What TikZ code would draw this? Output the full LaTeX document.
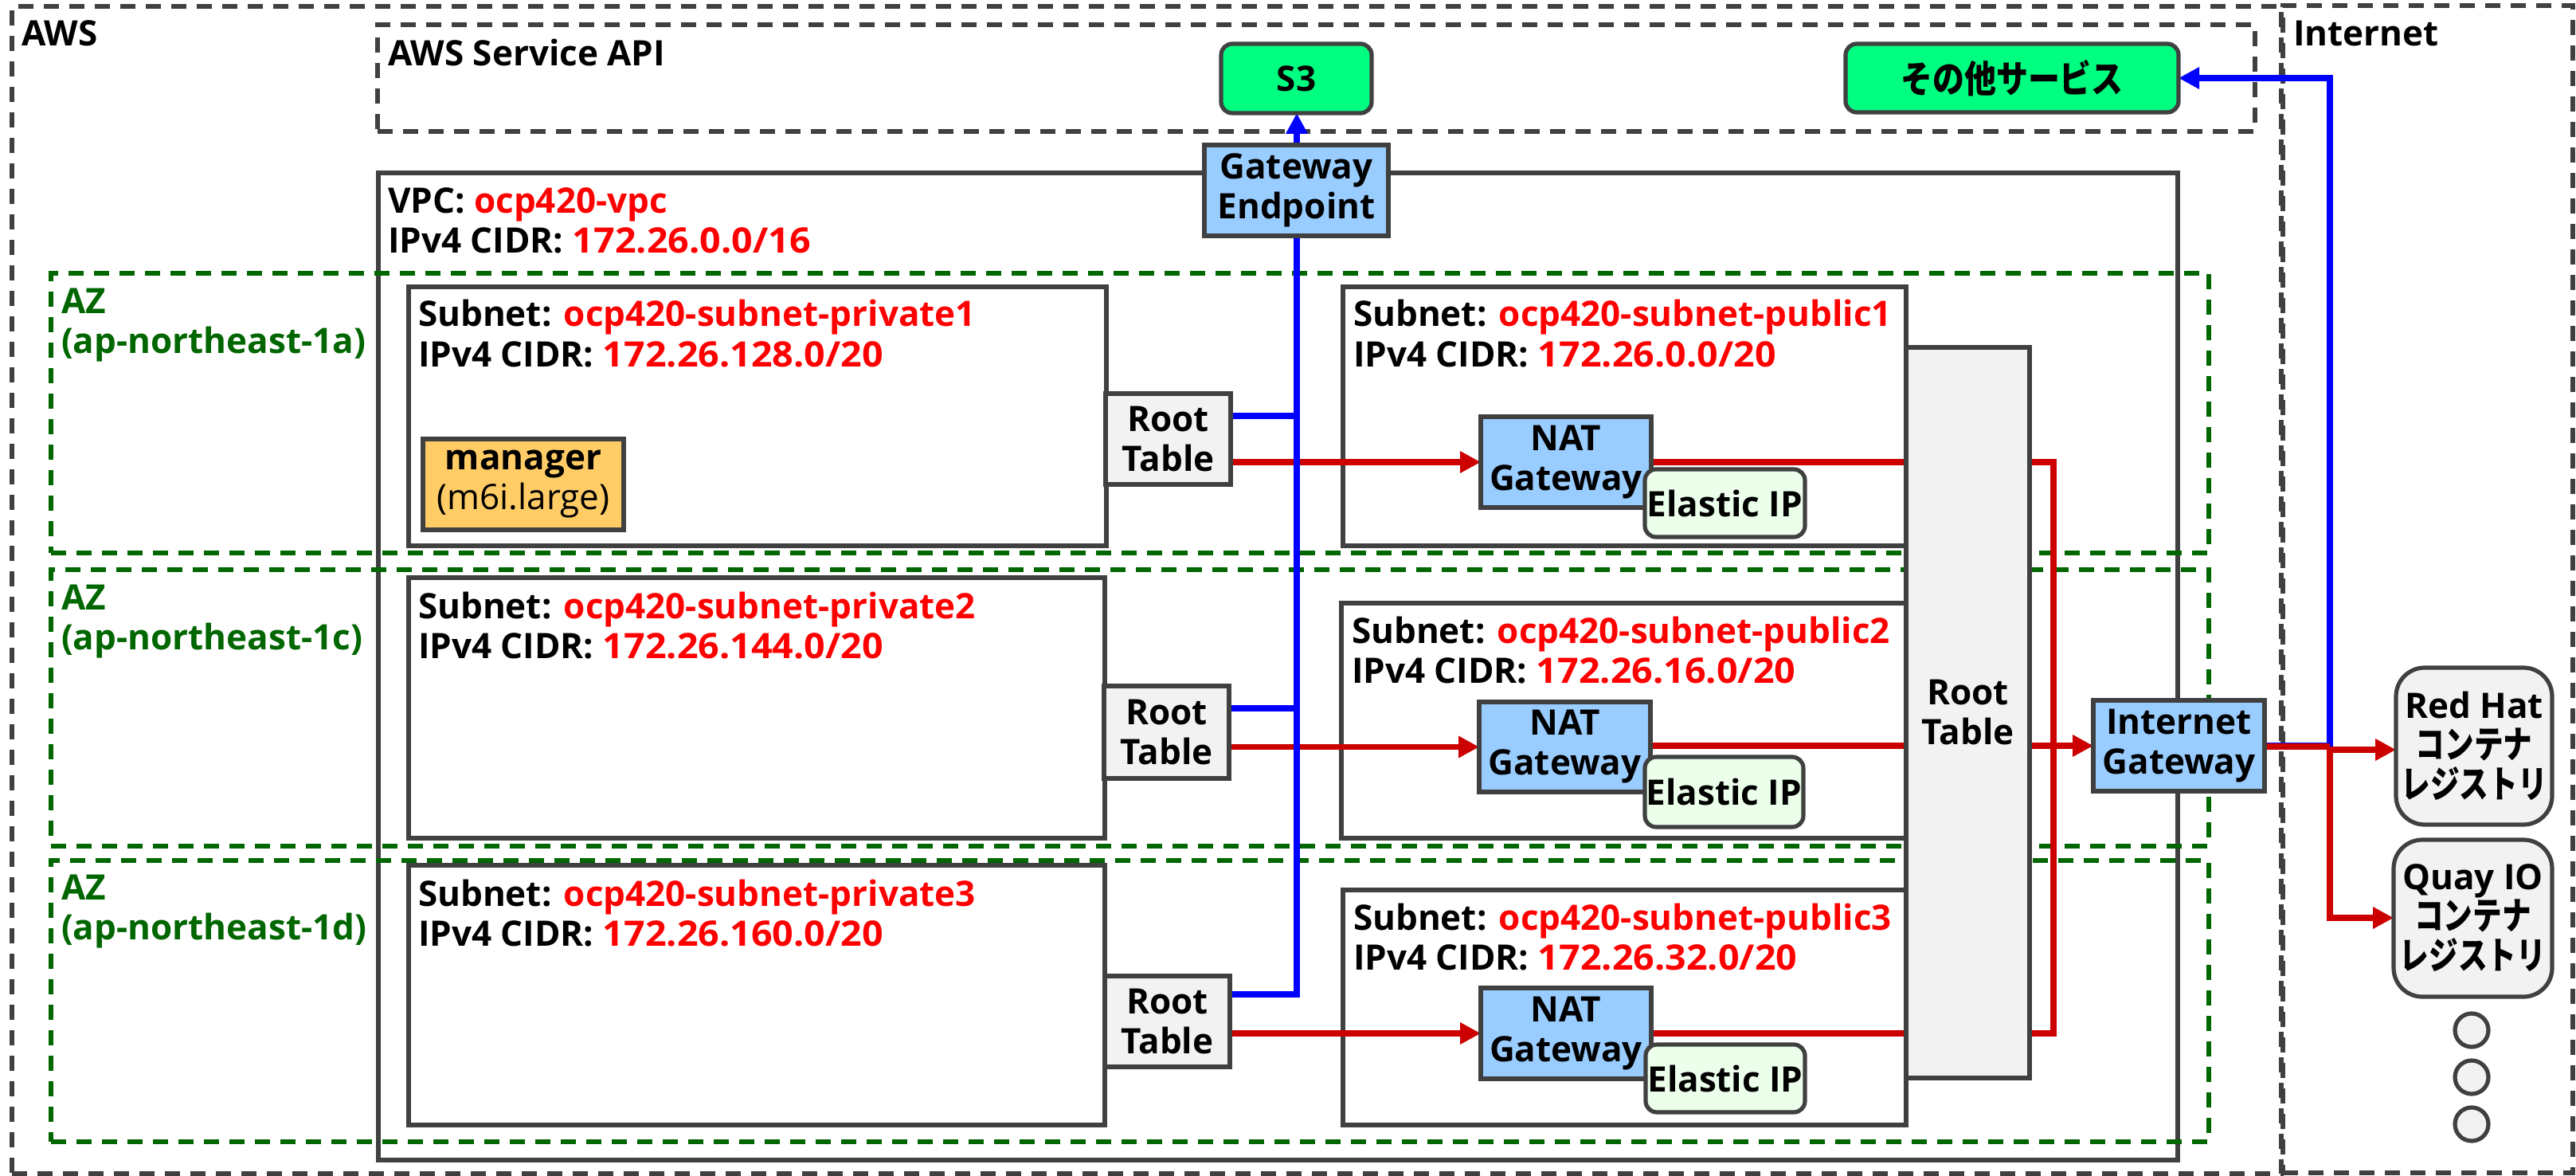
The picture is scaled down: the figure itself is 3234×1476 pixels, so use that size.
\documentclass[tikz,border=0pt]{standalone}
\usepackage{fontspec}
\setmainfont{Open Sans}
\newfontfamily\numf{Open Sans}[FakeStretch=1.06]
\newfontfamily\cjk{Noto Sans CJK JP}[FakeStretch=0.78]
\newfontfamily\cjkw{Noto Sans CJK JP}[FakeStretch=0.85]
\usetikzlibrary{arrows.meta}
\pgfdeclarelayer{bg}\pgfdeclarelayer{conn}\pgfsetlayers{bg,conn,main}
\definecolor{edge}{HTML}{404040}
\definecolor{azgreen}{HTML}{006600}
\definecolor{redline}{HTML}{CC0000}
\definecolor{hlred}{HTML}{FF0000}
\definecolor{gwblue}{HTML}{99CCFF}
\definecolor{tblgray}{HTML}{F2F2F2}
\definecolor{mgrorange}{HTML}{FFCC66}
\definecolor{svcgreen}{HTML}{00FF80}
\definecolor{eipgreen}{HTML}{EBFFEB}
\newcommand{\hl}[1]{\textcolor{hlred}{#1}}
\newcommand{\hn}[1]{\textcolor{hlred}{\numf #1}}
\newcommand{\jp}[1]{{\fontsize{23.5}{25}\selectfont\cjk #1}}
\newcommand{\boxn}[6]{% style, name, left, top, right, bottom; text follows
  \node[#1,minimum width={(#5-#3)*0.5pt},minimum height={(#6-#4)*0.5pt}] (#2) at ({(#3+#5)/2},{(#4+#6)/2})}
\tikzset{
  x=0.5pt,y=-0.5pt,
  basebox/.style={draw=edge,line width=2.6pt,inner sep=0pt,outer sep=0pt,align=center,rectangle,text=black,
    font=\fontsize{22}{25}\selectfont\bfseries},
  dashbox/.style={basebox,dash pattern=on 9.5pt off 6.5pt},
  azbox/.style={dashbox,draw=azgreen},
  solidbox/.style={basebox},
  gwbox/.style={basebox,fill=gwblue},
  tblbox/.style={basebox,fill=tblgray},
  mgrbox/.style={basebox,fill=mgrorange},
  svcbox/.style={basebox,fill=svcgreen,rounded corners=7pt},
  eipbox/.style={basebox,fill=eipgreen,rounded corners=7pt},
  regbox/.style={basebox,fill=tblgray,rounded corners=18pt},
  dotn/.style={draw=edge,line width=2.6pt,fill=tblgray,circle,inner sep=0pt,outer sep=0pt,minimum size=21pt},
  lbl/.style={anchor=base west,inner sep=0pt,outer sep=0pt,align=left,text=black,
    font=\fontsize{22}{25}\selectfont\bfseries},
  azlbl/.style={lbl,text=azgreen},
  redarrow/.style={draw=redline,line width=3.6pt,-{Triangle[length=13pt,width=13pt]}},
  redpath/.style={draw=redline,line width=3.6pt},
  bluearrow/.style={draw=blue,line width=3.6pt,-{Triangle[length=13pt,width=13pt]}},
  bluepath/.style={draw=blue,line width=3.6pt},
}
\begin{document}
\begin{tikzpicture}
\useasboundingbox (0,0) rectangle (3234,1476);
\begin{pgfonlayer}{bg}
\boxn{dashbox}{aws}{15}{8}{2864}{1473}{};
\boxn{dashbox}{inet}{2866}{7}{3230}{1472}{};
\boxn{dashbox}{api}{474}{31}{2831}{165}{};
\boxn{solidbox}{vpc}{475}{217}{2734}{1456}{};
\boxn{azbox}{az1}{64}{343}{2773}{694}{};
\boxn{azbox}{az2}{64}{715}{2773}{1062}{};
\boxn{azbox}{az3}{64}{1080}{2773}{1433}{};
\boxn{solidbox}{priv1}{513}{360}{1389}{685}{};
\boxn{solidbox}{priv2}{513}{725}{1387}{1052}{};
\boxn{solidbox}{priv3}{513}{1086}{1387}{1412}{};
\boxn{solidbox}{pub1}{1686}{360}{2393}{685}{};
\boxn{solidbox}{pub2}{1684}{757}{2393}{1052}{};
\boxn{solidbox}{pub3}{1686}{1117}{2393}{1412}{};
\end{pgfonlayer}

\node[lbl] (awst) at (27,57.5) {AWS};
\node[lbl] (apit) at (487,82.6) {AWS Service API};
\node[lbl] (inett) at (2879,58) {Internet};
\node[lbl] (vpct) at (487,318) {VPC: \hl{ocp420-vpc}\\IPv4 CIDR: \hn{172.26.0.0/16}};
\node[azlbl] (az1t) at (77,444) {AZ\\(ap-northeast-1a)};
\node[azlbl] (az2t) at (77,815) {AZ\\(ap-northeast-1c)};
\node[azlbl] (az3t) at (77,1179) {AZ\\(ap-northeast-1d)};
\node[lbl] (priv1t) at (525,460) {Subnet: \hl{ocp420-subnet-private1}\\IPv4 CIDR: \hn{172.26.128.0/20}};
\node[lbl] (priv2t) at (525,826) {Subnet: \hl{ocp420-subnet-private2}\\IPv4 CIDR: \hn{172.26.144.0/20}};
\node[lbl] (priv3t) at (525,1187) {Subnet: \hl{ocp420-subnet-private3}\\IPv4 CIDR: \hn{172.26.160.0/20}};
\node[lbl] (pub1t) at (1699,460) {Subnet: \hl{ocp420-subnet-public1}\\IPv4 CIDR: \hn{172.26.0.0/20}};
\node[lbl] (pub2t) at (1697,857) {Subnet: \hl{ocp420-subnet-public2}\\IPv4 CIDR: \hn{172.26.16.0/20}};
\node[lbl] (pub3t) at (1699,1217) {Subnet: \hl{ocp420-subnet-public3}\\IPv4 CIDR: \hn{172.26.32.0/20}};

\boxn{svcbox}{s3}{1533}{55}{1722}{142}{S3};
\boxn{svcbox}{other}{2317}{55}{2735}{141}{\fontsize{23.5}{25}\selectfont\cjkw その他サービス};
\boxn{gwbox}{gwe}{1512}{182}{1743}{296}{Gateway\\Endpoint};
\boxn{mgrbox}{mgr}{531}{551}{783}{665}{manager\\{\mdseries (m6i.large)}};
\boxn{tblbox}{rt1}{1388}{494}{1545}{608}{Root\\Table};
\boxn{tblbox}{rt2}{1386}{861}{1543}{977}{Root\\Table};
\boxn{tblbox}{rt3}{1387}{1225}{1544}{1339}{Root\\Table};
\boxn{gwbox}{nat1}{1859}{523}{2073}{637}{NAT\\Gateway};
\boxn{gwbox}{nat2}{1857}{881}{2072}{994}{NAT\\Gateway};
\boxn{gwbox}{nat3}{1859}{1240}{2073}{1354}{NAT\\Gateway};
\boxn{eipbox}{eip1}{2065}{589}{2266}{674}{Elastic IP};
\boxn{eipbox}{eip2}{2065}{950}{2264}{1038}{Elastic IP};
\boxn{eipbox}{eip3}{2066}{1311}{2266}{1396}{Elastic IP};
\boxn{tblbox}{rtbig}{2393}{436}{2548}{1353}{Root\\Table};
\boxn{gwbox}{igw}{2628}{879}{2843}{993}{Internet\\Gateway};
\boxn{regbox}{redhat}{3008}{838}{3204}{1035}{Red Hat\\\jp{コンテナ}\\\jp{レジストリ}};
\boxn{regbox}{quay}{3005}{1054}{3204}{1251}{Quay IO\\\jp{コンテナ}\\\jp{レジストリ}};
\node[dotn] (d1) at (3103,1293) {};
\node[dotn] (d2) at (3103,1352) {};
\node[dotn] (d3) at (3103,1411) {};

\coordinate (bj1) at (1628,522);
\coordinate (bj2) at (1628,889);
\coordinate (bj3) at (1628,1248);
\coordinate (rj1) at (2578,580);
\coordinate (rj3) at (2578,1297);
\coordinate (bk) at (2925,936);
\coordinate (bt) at (2925,98);
\coordinate (rk) at (2925,937);
\coordinate (rka) at (2925,941);
\coordinate (rkb) at (2925,1152);

\begin{pgfonlayer}{conn}
\draw[redarrow] (rt1.east |- nat1.west) -- (nat1.west);
\draw[redarrow] (rt2.east |- nat2.west) -- (nat2.west);
\draw[redarrow] (rt3.east |- nat3.west) -- (nat3.west);
\draw[redpath] (nat1.east |- rj1) -- (rj1) -- (rj3) -- (nat3.east |- rj3);
\draw[redarrow] (nat2.east |- igw.west) -- (igw.west);
\draw[bluepath] (rt1.east |- bj1) -- (bj1);
\draw[bluepath] (rt2.east |- bj2) -- (bj2);
\draw[bluearrow] (rt3.east |- bj3) -- (bj3) -- (bj3 |- s3.south);
\draw[bluearrow] (igw.east |- bk) -- (bk) -- (bt) -- (other.east |- bt);
\draw[redpath] (igw.east |- rk) -- (rk);
\draw[redarrow] (rk) -- (rka) -- (redhat.west |- rka);
\draw[redarrow] (rk) -- (rkb) -- (quay.west |- rkb);
\end{pgfonlayer}
\end{tikzpicture}
\end{document}
